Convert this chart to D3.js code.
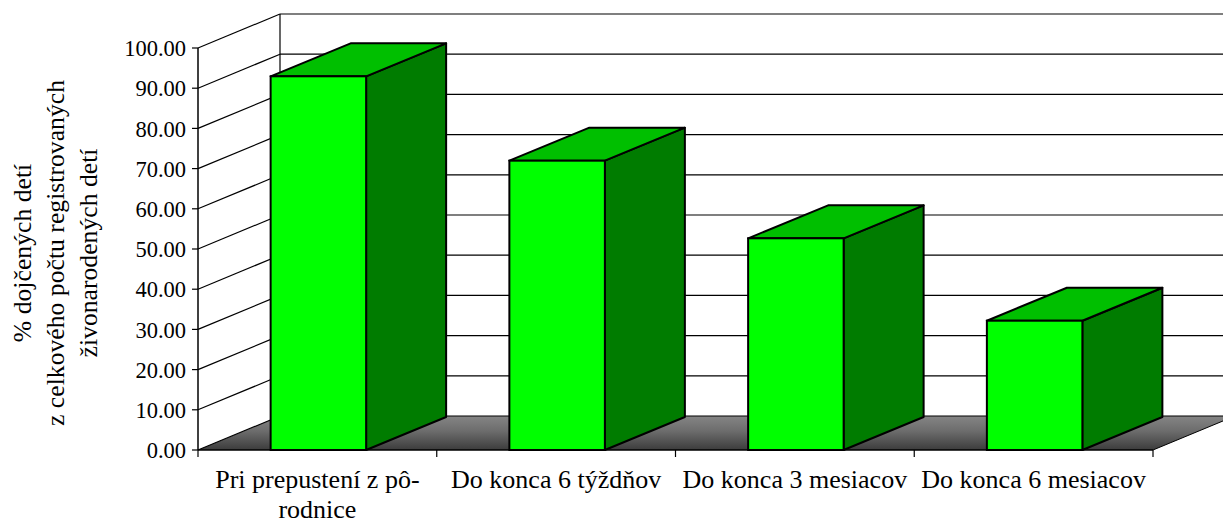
<!DOCTYPE html>
<html>
<head>
<meta charset="utf-8">
<script src="https://cdn.jsdelivr.net/npm/d3@7"></script>
<style>
  html, body { margin: 0; padding: 0; background: #fff; }
  text { font-family: 'Liberation Serif', 'Times New Roman', Times, 'DejaVu Serif', serif; }
</style>
</head>
<body>
<svg id="chart" width="1223" height="523"></svg>
<script>
const categories = ["Pri prepustení z pô-|rodnice", "Do konca 6 týždňov", "Do konca 3 mesiacov", "Do konca 6 mesiacov"];
const values = [92.96, 71.97, 52.66, 32.16];
const yTicks = [0, 10, 20, 30, 40, 50, 60, 70, 80, 90, 100];
const titleLines = ["% dojčených detí", "z celkového počtu registrovaných", "živonarodených detí"];

const svg = d3.select("#chart");
const FONT = "'Liberation Serif', 'Times New Roman', Times, serif";

const x0 = 198, x1 = 1153, yBottom = 450, yTop = 48;
const wallDx = 82, wallDy = -34;
const barDx = 80, barDy = -33;

const y = d3.scaleLinear().domain([0, 100]).range([yBottom, yTop]);
const xCat = d3.scaleBand().domain(categories).range([x0, x1]);
const xBar = d3.scaleBand().domain(categories).range([x0 + 1, x1 + 1]).paddingInner(0.6).paddingOuter(0.3);

const defs = svg.append("defs");
const grad = defs.append("linearGradient").attr("id", "floorGrad")
  .attr("x1", 0).attr("y1", 0).attr("x2", 0).attr("y2", 1);
grad.append("stop").attr("offset", "0%").attr("stop-color", "#858585");
grad.append("stop").attr("offset", "45%").attr("stop-color", "#6c6c6c");
grad.append("stop").attr("offset", "100%").attr("stop-color", "#3c3c3c");

const g = svg.append("g");

g.append("polygon")
  .attr("points", [[x0, yBottom], [x1, yBottom], [x1 + wallDx, yBottom + wallDy], [x0 + wallDx, yBottom + wallDy]].map(p => p.join(",")).join(" "))
  .attr("fill", "url(#floorGrad)");

g.selectAll(".bgrid").data(yTicks).enter().append("line")
  .attr("x1", x0 + wallDx).attr("x2", x1 + wallDx + 10)
  .attr("y1", d => y(d) + wallDy).attr("y2", d => y(d) + wallDy)
  .attr("stroke", "#000").attr("stroke-width", 1.2);

g.selectAll(".lgrid").data(yTicks).enter().append("line")
  .attr("x1", x0).attr("y1", d => y(d))
  .attr("x2", x0 + wallDx).attr("y2", d => y(d) + wallDy)
  .attr("stroke", "#000").attr("stroke-width", 1.2);

g.append("line")
  .attr("x1", x0 + wallDx).attr("x2", x0 + wallDx)
  .attr("y1", y(100) + wallDy).attr("y2", y(0) + wallDy)
  .attr("stroke", "#000").attr("stroke-width", 1.2);

g.append("line").attr("x1", x1).attr("y1", yBottom).attr("x2", x1 + wallDx).attr("y2", yBottom + wallDy)
  .attr("stroke", "#000").attr("stroke-width", 1);

g.append("line").attr("x1", x0).attr("x2", x0).attr("y1", y(100)).attr("y2", y(0))
  .attr("stroke", "#000").attr("stroke-width", 1.5);
g.selectAll(".ytick").data(yTicks).enter().append("line")
  .attr("x1", x0 - 6).attr("x2", x0)
  .attr("y1", d => y(d)).attr("y2", d => y(d))
  .attr("stroke", "#000").attr("stroke-width", 1.2);
g.selectAll(".ylab").data(yTicks).enter().append("text")
  .attr("x", x0 - 12).attr("y", d => y(d)).attr("dy", "0.36em")
  .attr("text-anchor", "end").attr("font-size", 22.5).attr("font-family", FONT).attr("fill", "#000")
  .text(d => d3.format(".2f")(d));

g.append("line").attr("x1", x0).attr("x2", x1).attr("y1", yBottom).attr("y2", yBottom)
  .attr("stroke", "#000").attr("stroke-width", 1.5);
const bounds = categories.map(c => xCat(c)).concat([x1]);
g.selectAll(".xtick").data(bounds).enter().append("line")
  .attr("x1", d => d).attr("x2", d => d).attr("y1", yBottom).attr("y2", yBottom + 7)
  .attr("stroke", "#000").attr("stroke-width", 1.2);

const bars = g.selectAll(".bar").data(categories.map((c, i) => ({c, v: values[i]}))).enter().append("g");
const pts = a => a.map(p => p.join(",")).join(" ");
bars.each(function(d) {
  const sel = d3.select(this);
  const L = xBar(d.c), R = L + xBar.bandwidth();
  const T = y(d.v), B = y(0);
  sel.append("polygon").attr("points", pts([[R, B], [R + barDx, B + barDy], [R + barDx, T + barDy], [R, T]]))
    .attr("fill", "#007c00").attr("stroke", "#000").attr("stroke-width", 2).attr("stroke-linejoin", "round");
  sel.append("polygon").attr("points", pts([[L, T], [R, T], [R + barDx, T + barDy], [L + barDx, T + barDy]]))
    .attr("fill", "#00bf00").attr("stroke", "#000").attr("stroke-width", 2).attr("stroke-linejoin", "round");
  sel.append("rect").attr("x", L).attr("y", T).attr("width", R - L).attr("height", B - T)
    .attr("fill", "#00ff00").attr("stroke", "#000").attr("stroke-width", 2);
});

categories.forEach(c => {
  const parts = c.split("|");
  const cx = xCat(c) + xCat.bandwidth() / 2;
  const t = g.append("text").attr("x", cx).attr("y", 488)
    .attr("text-anchor", "middle").attr("font-size", 26).attr("font-family", FONT).attr("fill", "#000");
  parts.forEach((p, i) => {
    t.append("tspan").attr("x", cx).attr("dy", i === 0 ? 0 : 30).text(p);
  });
});

const baselines = [31, 64, 97];
titleLines.forEach((line, i) => {
  svg.append("text")
    .attr("transform", `translate(${baselines[i]},253) rotate(-90)`)
    .attr("text-anchor", "middle").attr("font-size", 25.7).attr("font-family", FONT).attr("fill", "#000")
    .text(line);
});
</script>
</body>
</html>
